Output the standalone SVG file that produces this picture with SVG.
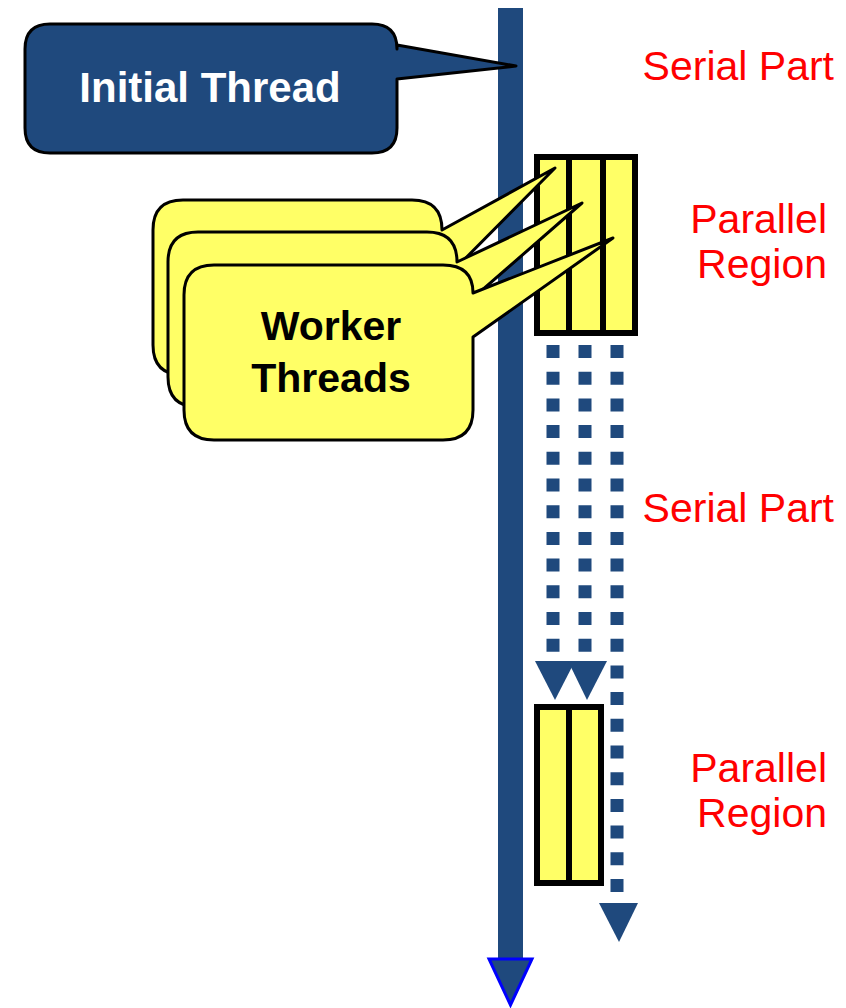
<svg xmlns="http://www.w3.org/2000/svg" width="846" height="1008" viewBox="0 0 846 1008">
<style>
.red{font-family:"Liberation Sans",Arial,sans-serif;font-size:41px;fill:#FF0000;text-anchor:end}
.bold{font-family:"Liberation Sans",Arial,sans-serif;font-weight:bold;font-size:40px;text-anchor:middle}
.wk{fill:#FFFF66;stroke:#000;stroke-width:3;stroke-linejoin:round}
.box{fill:#FFFF66;stroke:#000;stroke-width:6}
.dot{stroke:#1F497D;stroke-width:13;stroke-dasharray:13 13.7;fill:none}
.ah{fill:#1F497D}
</style>
<rect width="846" height="1008" fill="#fff"/>
<g id="connectors">
<rect x="498" y="8" width="25" height="952" fill="#1F497D"/>
<polygon points="489,959 532,959 510.5,1005" fill="#1F497D" stroke="#0000FF" stroke-width="3"/>
<line class="dot" x1="553" y1="345" x2="553" y2="660"/>
<line class="dot" x1="585" y1="345" x2="585" y2="660"/>
<line class="dot" x1="617" y1="345" x2="617" y2="895"/>
<polygon class="ah" points="535,661 575,661 555,700"/>
<polygon class="ah" points="568,661 607,661 587,700"/>
<polygon class="ah" points="599,903 638,903 619,942"/>
</g>
<g id="initial-thread">
<path d="M50,24 H372 Q397,24 397,49 V45 L516,66 L397,79 V128 Q397,153 372,153 H50 Q25,153 25,128 V49 Q25,24 50,24 Z" fill="#1F497D" stroke="#000" stroke-width="3" stroke-linejoin="round"/>
<text class="bold" x="210" y="102" fill="#fff" style="font-size:42px">Initial Thread</text>
</g>
<g id="parallel-region-1">
<rect class="box" x="537" y="157" width="98" height="176"/>
<line x1="569" y1="157" x2="569" y2="333" stroke="#000" stroke-width="6"/>
<line x1="603" y1="157" x2="603" y2="333" stroke="#000" stroke-width="6"/>
</g>
<g id="parallel-region-2">
<rect class="box" x="537" y="707" width="64" height="176"/>
<line x1="569" y1="707" x2="569" y2="883" stroke="#000" stroke-width="6"/>
</g>
<g id="worker-threads">
<path class="wk" d="M183,200 H412 Q442,200 442,230 L555,168 L442,282 V345 Q442,375 412,375 H183 Q153,375 153,345 V230 Q153,200 183,200 Z"/>
<path class="wk" d="M198,232 H427 Q457,232 457,262 L582,203 L457,312 V377 Q457,407 427,407 H198 Q168,407 168,377 V262 Q168,232 198,232 Z"/>
<path class="wk" d="M214,265 H443 Q473,265 473,293 L613,238 L473,337 V410 Q473,440 443,440 H214 Q184,440 184,410 V295 Q184,265 214,265 Z"/>
<text class="bold" x="331" y="340" fill="#000" style="font-size:41px">Worker</text>
<text class="bold" x="331" y="392" fill="#000" style="font-size:41px">Threads</text>
</g>
<g id="labels">
<text class="red" x="834" y="80">Serial Part</text>
<text class="red" x="827" y="233">Parallel</text>
<text class="red" x="827" y="278">Region</text>
<text class="red" x="834" y="522">Serial Part</text>
<text class="red" x="827" y="782">Parallel</text>
<text class="red" x="827" y="827">Region</text>
</g>
</svg>
